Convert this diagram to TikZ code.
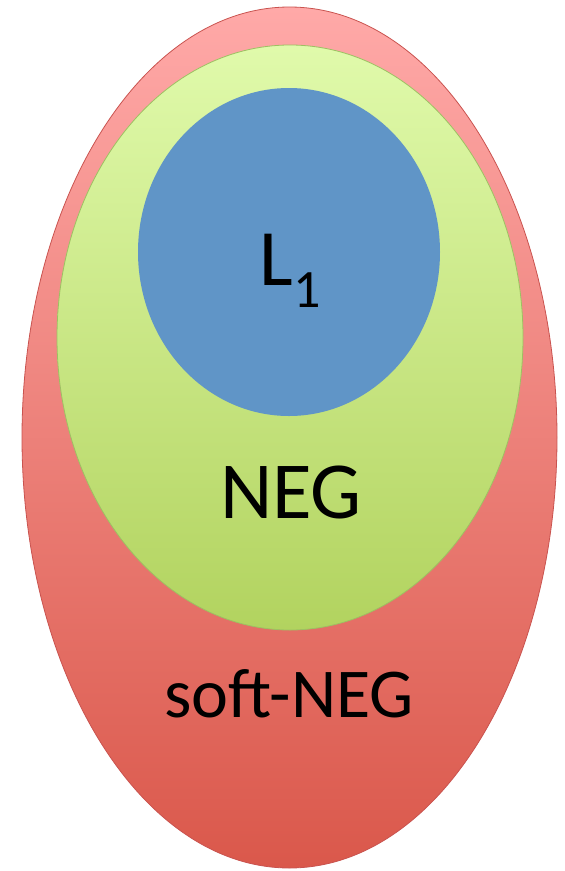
\documentclass[tikz,border=0pt]{standalone}
\usepackage{fontspec}
\setmainfont{Carlito}
\usepackage{xcolor}
\definecolor{softtop}{HTML}{FFA9A8}
\definecolor{softbot}{HTML}{DA584B}
\definecolor{softline}{HTML}{C9534F}
\definecolor{negtop}{HTML}{E0FAAB}
\definecolor{negbot}{HTML}{B2D35F}
\definecolor{negline}{HTML}{9DC162}
\definecolor{lone}{HTML}{6095C7}

\begin{document}
\begin{tikzpicture}[x=1pt, y=-1pt,
  setlabel/.style={anchor=base, inner sep=0pt, text=black}]
\useasboundingbox (0,0) rectangle (565,871);
% outer set
\draw[softline, thick, top color=softtop, bottom color=softbot]
  (289.5,437.5) ellipse [x radius=267.5, y radius=430.5];
% middle set
\draw[negline, thick, top color=negtop, bottom color=negbot]
  (290,337.5) ellipse [x radius=233, y radius=292.5];
% inner set
\fill[lone] (289,252) ellipse [x radius=151, y radius=164];
% labels
\node[setlabel] (lonelabel) at (290,285)
  {\fontsize{80}{96}\selectfont L\raisebox{-22pt}{\fontsize{54}{60}\selectfont 1}};
\node[setlabel] (neglabel) at (291,518) {\fontsize{81}{96}\selectfont NEG};
\node[setlabel] (softlabel) at (289,717) {\fontsize{70}{84}\selectfont soft-NEG};
\end{tikzpicture}
\end{document}
